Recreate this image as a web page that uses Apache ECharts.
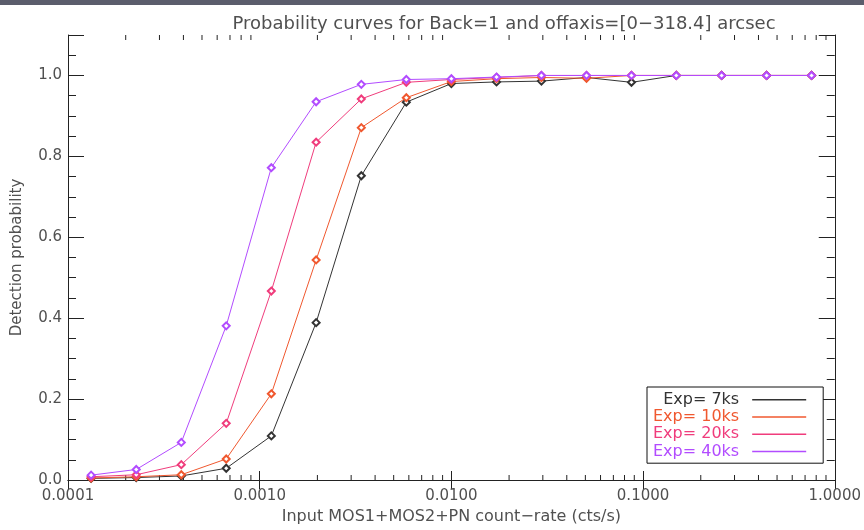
<!DOCTYPE html>
<html>
<head>
<meta charset="utf-8">
<title>Probability curves</title>
<script src="https://cdn.jsdelivr.net/npm/echarts@6/dist/echarts.min.js"></script>
<style>
  html, body { margin: 0; padding: 0; background: #ffffff; }
  #chart { width: 864px; height: 530px; }
</style>
</head>
<body>
<div id="chart"></div>
<script>
// Input count rates (cts/s), log-spaced grid
const rates = [0.000132, 0.000227, 0.000390, 0.000669, 0.00115, 0.00197, 0.00339, 0.00582,
               0.0100, 0.0172, 0.0295, 0.0507, 0.0870, 0.149, 0.257, 0.441, 0.757];

// Detection probability per exposure time
const exp7ks  = [0.004, 0.006, 0.010, 0.029, 0.109, 0.389, 0.752, 0.934, 0.980, 0.984, 0.986, 0.995, 0.983, 1.0, 1.0, 1.0, 1.0];
const exp10ks = [0.005, 0.008, 0.013, 0.052, 0.213, 0.544, 0.871, 0.945, 0.985, 0.992, 0.995, 0.993, 1.0, 1.0, 1.0, 1.0, 1.0];
const exp20ks = [0.008, 0.013, 0.038, 0.140, 0.467, 0.835, 0.942, 0.983, 0.990, 0.995, 1.0, 1.0, 1.0, 1.0, 1.0, 1.0, 1.0];
const exp40ks = [0.012, 0.026, 0.093, 0.381, 0.772, 0.935, 0.978, 0.990, 0.992, 0.996, 1.0, 1.0, 1.0, 1.0, 1.0, 1.0, 1.0];

const seriesNames = ['Exp= 7ks', 'Exp= 10ks', 'Exp= 20ks', 'Exp= 40ks'];
const seriesColors = ['#333333', '#f0582f', '#f03c7c', '#b24cff'];
const seriesValues = [exp7ks, exp10ks, exp20ks, exp40ks];

// Log-axis minor tick positions (2..9 per decade)
const minorTicks = [];
for (let e = -4; e < 0; e++) {
  for (let m = 2; m <= 9; m++) minorTicks.push(m * Math.pow(10, e));
}

const FONT = 'DejaVu Sans';
const TEXT = '#505050';
const AXIS = '#222222';

const chart = echarts.init(document.getElementById('chart'), null, { renderer: 'canvas' });

const yLabel = v => (v > 1.05 ? '' : v.toFixed(1));

function yAxisPair(position, showLabels) {
  return [
    {
      type: 'value', position: position, min: 0, max: 1.1, interval: 0.2,
      name: showLabels ? 'Detection probability' : '',
      nameLocation: 'middle', nameGap: 43,
      nameTextStyle: { fontFamily: FONT, fontSize: 15, color: TEXT },
      axisLine: { show: true, lineStyle: { color: AXIS, width: 1 } },
      axisTick: { show: true, inside: true, length: 16, lineStyle: { color: AXIS } },
      axisLabel: { show: showLabels, formatter: yLabel, margin: 6, fontFamily: FONT, fontSize: 15, color: TEXT },
      splitLine: { show: false }
    },
    {
      type: 'value', position: position, min: 0, max: 1.1, interval: 0.05,
      axisLine: { show: false },
      axisTick: { show: true, inside: true, length: 8, lineStyle: { color: AXIS } },
      axisLabel: { show: false },
      splitLine: { show: false }
    }
  ];
}

const lineSeries = seriesNames.map((name, i) => ({
  name: name,
  type: 'line',
  xAxisIndex: 0,
  yAxisIndex: 0,
  data: rates.map((r, j) => [r, seriesValues[i][j]]),
  symbol: 'emptyDiamond',
  symbolSize: 7,
  showSymbol: true,
  lineStyle: { color: seriesColors[i], width: 1 },
  itemStyle: { color: seriesColors[i], borderWidth: 1 },
  emphasis: { disabled: true },
  animation: false,
  z: 3 + i
}));

const minorTickSeries = {
  type: 'custom',
  xAxisIndex: 0,
  yAxisIndex: 0,
  silent: true,
  animation: false,
  data: minorTicks.map(v => [v, 0]),
  encode: { x: 0, y: 1 },
  renderItem: function (params, api) {
    const x = api.coord([api.value(0), 0])[0];
    const cs = params.coordSys;
    const bottom = cs.y + cs.height;
    const style = { stroke: AXIS, lineWidth: 1 };
    return {
      type: 'group',
      children: [
        { type: 'line', shape: { x1: x, y1: bottom, x2: x, y2: bottom - 5 }, style: style },
        { type: 'line', shape: { x1: x, y1: cs.y, x2: x, y2: cs.y + 5 }, style: style }
      ]
    };
  },
  z: 2
};

const option = {
  backgroundColor: '#ffffff',
  animation: false,
  title: {
    text: 'Probability curves for Back=1 and offaxis=[0\u2212318.4] arcsec',
    left: 499, top: 10, textAlign: 'center',
    textStyle: { fontFamily: FONT, fontSize: 18, fontWeight: 'normal', color: TEXT }
  },
  graphic: [
    { type: 'rect', left: 0, top: 0, shape: { width: 864, height: 5 }, style: { fill: '#5b5d6c' }, silent: true }
  ],
  grid: { left: 68, right: 28, top: 35, bottom: 49, containLabel: false },
  xAxis: [
    {
      type: 'log', logBase: 10, min: 0.0001, max: 1, position: 'bottom',
      name: 'Input MOS1+MOS2+PN count\u2212rate (cts/s)',
      nameLocation: 'middle', nameGap: 29,
      nameTextStyle: { fontFamily: FONT, fontSize: 16, color: TEXT },
      axisLine: { show: true, lineStyle: { color: AXIS, width: 1 } },
      axisTick: { show: true, inside: true, length: 9, lineStyle: { color: AXIS } },
      axisLabel: { formatter: v => Number(v).toFixed(4), margin: 9, fontFamily: FONT, fontSize: 15, color: TEXT },
      splitLine: { show: false }
    },
    {
      type: 'log', logBase: 10, min: 0.0001, max: 1, position: 'top',
      axisLine: { show: true, lineStyle: { color: AXIS, width: 1 } },
      axisTick: { show: true, inside: true, length: 9, lineStyle: { color: AXIS } },
      axisLabel: { show: false },
      splitLine: { show: false }
    }
  ],
  yAxis: [].concat(yAxisPair('left', true), yAxisPair('right', false)),
  legend: {
    orient: 'vertical',
    left: 647, top: 387,
    align: 'right',
    padding: [4, 17, 3, 6],
    itemGap: 0,
    itemWidth: 54,
    itemHeight: 1.5,
    icon: 'rect',
    selectedMode: false,
    borderColor: '#111111',
    borderWidth: 1,
    backgroundColor: '#ffffff',
    itemStyle: { borderWidth: 0 },
    textStyle: { fontFamily: FONT, fontSize: 16, lineHeight: 17.3, padding: [0, 8, 0, 0] },
    data: seriesNames.map((n, i) => ({
      name: n,
      itemStyle: { color: seriesColors[i] },
      textStyle: { color: seriesColors[i] }
    }))
  },
  series: lineSeries.concat([minorTickSeries])
};

chart.setOption(option);
</script>
</body>
</html>
